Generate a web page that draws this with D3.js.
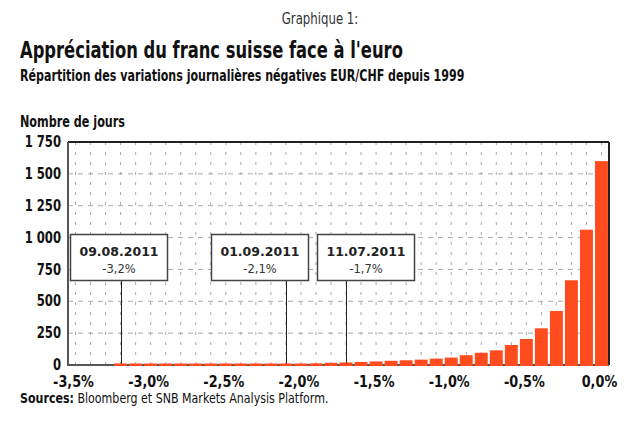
<!DOCTYPE html>
<html>
<head>
<meta charset="utf-8">
<script src="https://cdn.jsdelivr.net/npm/d3@7"></script>
<style>
  html, body { margin: 0; padding: 0; background: #fff; }
  svg { display: block; }
  .cond { font-family: "Liberation Sans Narrow", "DejaVu Sans Condensed", "Arial Narrow", sans-serif; font-stretch: condensed; }
  .ver { font-family: "DejaVu Sans", Verdana, sans-serif; }
</style>
</head>
<body>
<svg id="chart" width="640" height="422"></svg>
<script>
// ---- data ----
const categories = ["-3.5","-3.4","-3.3","-3.2","-3.1","-3.0","-2.9","-2.8","-2.7","-2.6",
                    "-2.5","-2.4","-2.3","-2.2","-2.1","-2.0","-1.9","-1.8","-1.7","-1.6",
                    "-1.5","-1.4","-1.3","-1.2","-1.1","-1.0","-0.9","-0.8","-0.7","-0.6",
                    "-0.5","-0.4","-0.3","-0.2","-0.1","0.0"];
const days = [0,0,0,1,1,1,1,1,1,2,
              1,2,2,3,4,8,13,17,20,24,
              28,33,37,42,50,58,77,96,115,157,
              204,288,424,665,1062,1600];
const xTickValues = ["-3.5","-3.0","-2.5","-2.0","-1.5","-1.0","-0.5","0.0"];
const xTickLabels = ["-3,5%","-3,0%","-2,5%","-2,0%","-1,5%","-1,0%","-0,5%","0,0%"];
const yTickValues = [0,250,500,750,1000,1250,1500,1750];
const annDates = ["09.08.2011","01.09.2011","11.07.2011"];
const annCats = ["-3.2","-2.1","-1.7"];
const annLabels = ["-3,2%","-2,1%","-1,7%"];

const titleTop = "Graphique 1:";
const title = "Appréciation du franc suisse face à l'euro";
const subtitle = "Répartition des variations journalières négatives EUR/CHF depuis 1999";
const yTitle = "Nombre de jours";
const sourceBold = "Sources:";
const sourceRest = " Bloomberg et SNB Markets Analysis Platform.";

// ---- layout ----
const L = 68, R = 609, T = 142, B = 365;
const annBoxDx = [-2, -26, 19];   // box centre offset from its pointer line (px)
const boxW = 97, boxTop = 234, boxH = 46;
const barColor = "#ff4b1e";

const svg = d3.select("#chart");
const x = d3.scaleBand().domain(categories).range([L, R]).paddingInner(0.14).paddingOuter(0.07);
const xc = d => x(d) + x.bandwidth() / 2;
const y = d3.scaleLinear().domain([0, 1750]).range([B, T]);
const loc = d3.formatLocale({decimal: ",", thousands: "\u2009", grouping: [3], currency: ["", ""]});
const fmt = v => loc.format(",")(v).replace("\u2009", " ");

// squeeze text horizontally to imitate the narrower original typeface
function condense(sel, f) {
  sel.each(function() {
    const w = this.getComputedTextLength();
    d3.select(this).attr("textLength", w * f).attr("lengthAdjust", "spacingAndGlyphs");
  });
  return sel;
}

// texts
condense(svg.append("text").attr("class","cond").attr("x",320).attr("y",24).attr("text-anchor","middle")
  .attr("font-size",15).attr("fill","#333").text(titleTop), 0.87);
condense(svg.append("text").attr("class","cond").attr("x",20).attr("y",58)
  .attr("font-size",23).attr("font-weight","bold").attr("fill","#111").text(title), 0.79);
condense(svg.append("text").attr("class","cond").attr("x",20).attr("y",81)
  .attr("font-size",15).attr("font-weight","bold").attr("fill","#111").text(subtitle), 0.82);
condense(svg.append("text").attr("class","cond").attr("x",20).attr("y",127)
  .attr("font-size",15).attr("font-weight","bold").attr("fill","#111").text(yTitle), 0.83);

// grid
const grid = svg.append("g");
grid.selectAll("line.v").data(categories).join("line")
  .attr("x1", d => xc(d)).attr("x2", d => xc(d)).attr("y1", T).attr("y2", B)
  .attr("stroke","#aaa").attr("stroke-width",1).attr("stroke-dasharray","3,7");
grid.selectAll("line.h").data(yTickValues.filter(v => v > 0 && v < 1750)).join("line")
  .attr("x1", L).attr("x2", R).attr("y1", d => y(d)).attr("y2", d => y(d))
  .attr("stroke","#aaa").attr("stroke-width",1).attr("stroke-dasharray","5,5");

// frame
svg.append("line").attr("x1",L).attr("x2",R).attr("y1",T).attr("y2",T).attr("stroke","#222").attr("stroke-width",2);
svg.append("line").attr("x1",R).attr("x2",R).attr("y1",T).attr("y2",B).attr("stroke","#222").attr("stroke-width",2);
svg.append("line").attr("x1",L).attr("x2",L).attr("y1",T).attr("y2",B+1).attr("stroke","#555").attr("stroke-width",2);
svg.append("line").attr("x1",L).attr("x2",R).attr("y1",B).attr("y2",B).attr("stroke","#555").attr("stroke-width",2);

// annotation pointer lines
svg.append("g").selectAll("line").data(annCats).join("line")
  .attr("x1", d => Math.round(xc(d)) + 0.5).attr("x2", d => Math.round(xc(d)) + 0.5)
  .attr("y1", boxTop + boxH).attr("y2", B)
  .attr("stroke","#222").attr("stroke-width",1);

// bars
const data = categories.map((c, i) => ({c, v: days[i]}));
svg.append("g").selectAll("rect").data(data.filter(d => d.v > 0)).join("rect")
  .attr("x", d => x(d.c))
  .attr("width", x.bandwidth())
  .attr("y", d => Math.min(y(d.v), B - 1.5))
  .attr("height", d => B + 1 - Math.min(y(d.v), B - 1.5))
  .attr("fill", barColor);

// axis labels
condense(svg.append("g").selectAll("text").data(yTickValues).join("text")
  .attr("class","cond").attr("x", 61).attr("y", d => y(d)).attr("dy","0.34em")
  .attr("text-anchor","end").attr("font-size",15).attr("font-weight","bold").attr("fill","#111")
  .text(d => fmt(d)), 0.86);
condense(svg.append("g").selectAll("text").data(xTickValues).join("text")
  .attr("class","cond").attr("x", d => xc(d) - 2).attr("y", 387)
  .attr("text-anchor","middle").attr("font-size",15).attr("font-weight","bold").attr("fill","#111")
  .text((d, i) => xTickLabels[i]), 0.95);

// annotation boxes
const ann = svg.append("g").selectAll("g").data(annCats).join("g")
  .attr("transform", (d, i) => `translate(${Math.round(xc(d) + annBoxDx[i] - boxW / 2)},${boxTop})`);
ann.append("rect").attr("x",0.5).attr("y",0.5).attr("width",boxW).attr("height",boxH)
  .attr("fill","#fff").attr("stroke","#444").attr("stroke-width",1.5);
ann.append("text").attr("class","ver").attr("x", boxW/2 + 0.5).attr("y", 22)
  .attr("text-anchor","middle").attr("font-size",12.5).attr("font-weight","bold").attr("fill","#222")
  .text((d, i) => annDates[i]);
ann.append("text").attr("class","ver").attr("x", boxW/2 + 0.5).attr("y", 39)
  .attr("text-anchor","middle").attr("font-size",11.5).attr("fill","#333")
  .text((d, i) => annLabels[i]);

// source
const src = svg.append("text").attr("class","cond").attr("x",20).attr("y",403)
  .attr("font-size",13.5).attr("fill","#111");
src.append("tspan").attr("font-weight","bold").text(sourceBold);
src.append("tspan").text(sourceRest);
condense(src, 0.91);
</script>
</body>
</html>
